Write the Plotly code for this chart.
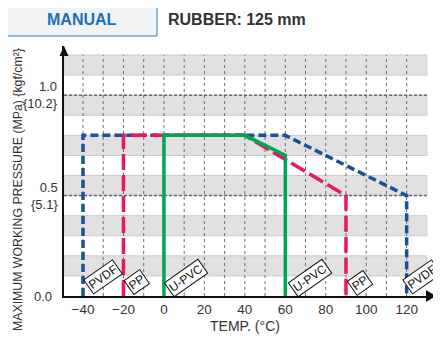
import plotly.graph_objects as go

# ---- data ----
pvdf_t = [-40, -40, 60, 120, 120]
pvdf_p = [0, 0.8, 0.8, 0.5, 0]
pp_t = [-20, -20, 40, 90, 90]
pp_p = [0, 0.8, 0.8, 0.5, 0]
upvc_t = [0, 0, 40, 60, 60]
upvc_p = [0, 0.8, 0.8, 0.7, 0]

x_ticks = [-40, -20, 0, 20, 40, 60, 80, 100, 120]
y_ticks = [1.0, 0.5, 0.0]
y_tick_labels = ["1.0<br>{10.2}", "0.5<br>{5.1}", "0.0"]
band_lows = [0.1, 0.3, 0.5, 0.7, 0.9, 1.1]
grid_temps = list(range(-40, 121, 10))

labels = [  # (text, temp, pressure)
    ("PVDF", -30.2, 0.095),
    ("PP", -13.3, 0.068),
    ("U-PVC", 10.9, 0.09),
    ("U-PVC", 72.2, 0.09),
    ("PP", 96.9, 0.065),
    ("PVDF", 127.5, 0.095),
]

XMIN, XMAX = -49.4, 134.5
BAND_END = 130
FONT = "Liberation Sans, Arial"

fig = go.Figure()

fig.add_trace(go.Scatter(x=pvdf_t, y=pvdf_p, mode="lines",
                         line=dict(color="#1850a0", width=3.5, dash="8px,4px"),
                         hoverinfo="skip", showlegend=False))
fig.add_trace(go.Scatter(x=pp_t, y=pp_p, mode="lines",
                         line=dict(color="#eb1560", width=3.5, dash="16px,5px"),
                         hoverinfo="skip", showlegend=False))
fig.add_trace(go.Scatter(x=upvc_t, y=upvc_p, mode="lines",
                         line=dict(color="#00a651", width=3.5),
                         hoverinfo="skip", showlegend=False))

shapes = []
for lo in band_lows:
    shapes.append(dict(type="rect", xref="x", yref="y", x0=XMIN, x1=BAND_END,
                       y0=lo, y1=lo + 0.1, fillcolor="#e2e0e0",
                       line=dict(color="#cdcbcb", width=1), layer="below"))
for t in grid_temps:
    shapes.append(dict(type="line", xref="x", yref="y", x0=t, x1=t, y0=0, y1=1.2,
                       line=dict(color="#6e6e6e", width=1, dash="dot"), layer="below"))
for yv in [0.5, 1.0]:
    shapes.append(dict(type="line", xref="x", yref="y", x0=XMIN, x1=BAND_END, y0=yv, y1=yv,
                       line=dict(color="#666666", width=1.5, dash="3px,2px"), layer="below"))
# axis arrows
shapes.append(dict(type="path", xref="paper", yref="paper",
                   path=f"M 1 0 L {1-10/372} {6/250} L {1-10/372} {-6/250} Z",
                   fillcolor="#111111", line=dict(width=0)))
shapes.append(dict(type="path", xref="paper", yref="paper",
                   path=f"M 0 1 L {-4.5/372} {1-10/250} L {4.5/372} {1-10/250} Z",
                   fillcolor="#111111", line=dict(width=0)))
# header box
shapes.append(dict(type="rect", xref="paper", yref="paper",
                   x0=(7-64)/372, x1=(157-64)/372,
                   y0=(296-36)/250, y1=(296-3)/250,
                   fillcolor="#f1f2f4", line=dict(color="#2b7cc4", width=1)))

annotations = []
for txt, t, p in labels:
    annotations.append(dict(x=t, y=p, xref="x", yref="y", text=txt, showarrow=False,
                            xanchor="center", yanchor="middle",
                            textangle=-35, font=dict(family=FONT, size=12, color="#111"),
                            bgcolor="white", bordercolor="#111", borderwidth=1, borderpad=1))
for yv, txt in zip(y_ticks, y_tick_labels):
    annotations.append(dict(x=0, y=yv, xref="paper", yref="y", text=txt, showarrow=False,
                            xanchor="right", yanchor="middle", xshift=-4 if yv > 0 else -10,
                            align="right",
                            font=dict(family=FONT, size=13, color="#333")))
annotations.append(dict(x=(18-64)/372, y=(296-190)/250, xref="paper", yref="paper",
                        text="MAXIMUM WORKING PRESSURE (MPa) {kgf/cm²}",
                        textangle=-90, showarrow=False, xanchor="center", yanchor="middle",
                        font=dict(family=FONT, size=12.3, color="#333")))
annotations.append(dict(x=(245-64)/372, y=(296-326)/250, xref="paper", yref="paper",
                        text="TEMP. (°C)", showarrow=False, xanchor="center", yanchor="middle",
                        font=dict(family=FONT, size=14, color="#333")))
annotations.append(dict(x=(82-64)/372, y=(296-20)/250, xref="paper", yref="paper",
                        text="<b>MANUAL</b>", showarrow=False, xanchor="center", yanchor="middle",
                        font=dict(family=FONT, size=16, color="#1b6fb5")))
annotations.append(dict(x=(166-64)/372, y=(296-20)/250, xref="paper", yref="paper",
                        text="<b>RUBBER: 125 mm</b>", showarrow=False, xanchor="left",
                        yanchor="middle",
                        font=dict(family=FONT, size=16, color="#333")))

# page body has an 8px margin: shrink figure and shift margins accordingly
fig.update_layout(
    width=433, height=332,
    margin=dict(l=56, r=5, t=38, b=44, autoexpand=False),
    plot_bgcolor="white", paper_bgcolor="white",
    shapes=shapes, annotations=annotations,
    xaxis=dict(range=[XMIN, XMAX], showgrid=False, zeroline=False,
               showline=True, linecolor="#111", linewidth=2,
               tickvals=x_ticks, ticks="", ticklen=0, automargin=False,
               tickfont=dict(family=FONT, size=13.5, color="#333")),
    yaxis=dict(range=[0, 1.245], showgrid=False, zeroline=False,
               showline=True, linecolor="#111", linewidth=2, automargin=False,
               showticklabels=False, ticks=""),
)

fig.write_html("out.html")
